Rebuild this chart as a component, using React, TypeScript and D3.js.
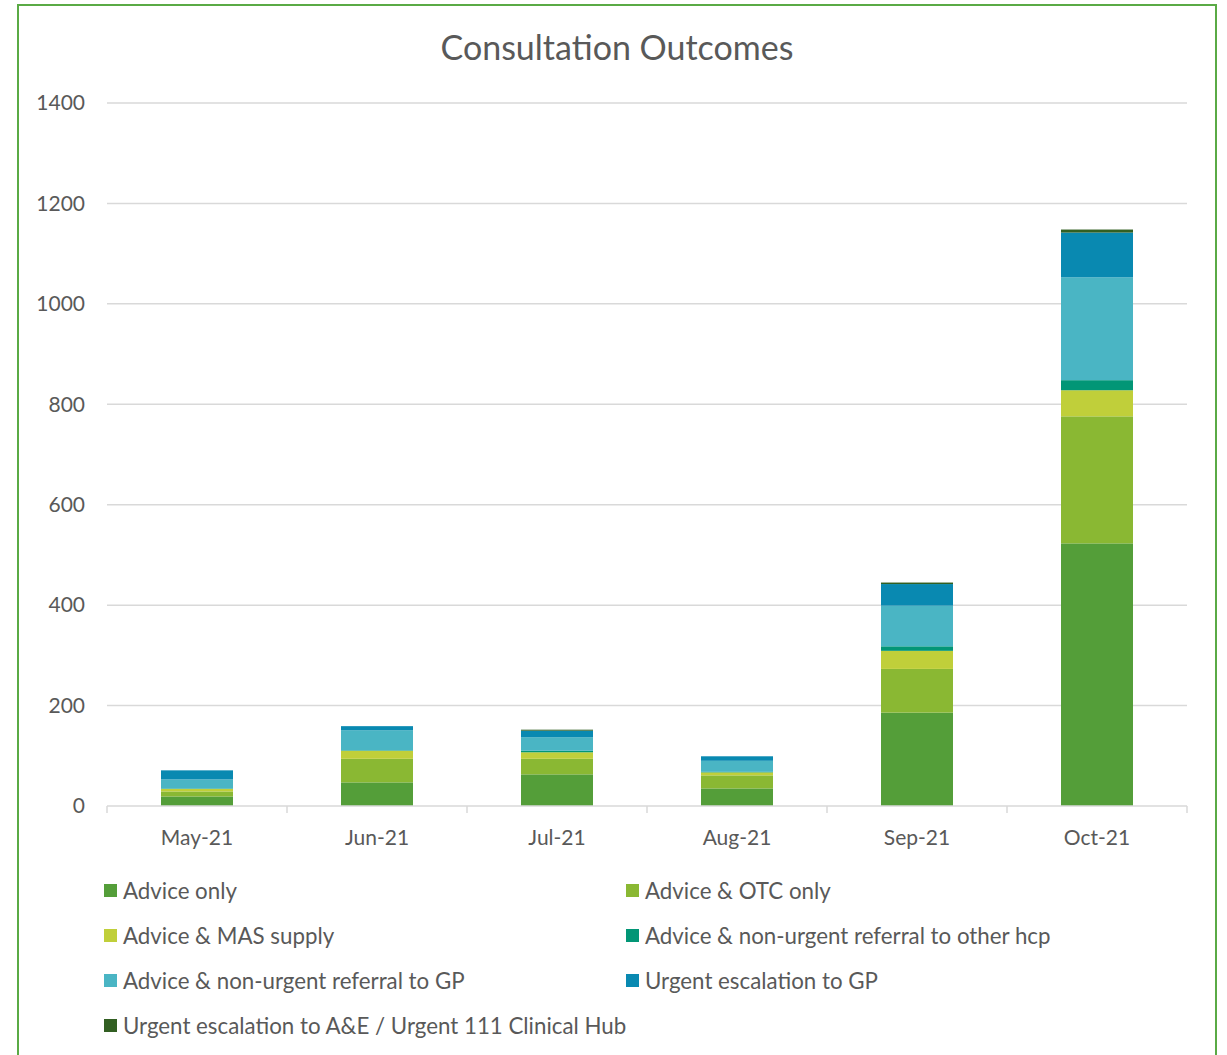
import React from "react";
import * as d3 from "d3";

const months = ["May-21", "Jun-21", "Jul-21", "Aug-21", "Sep-21", "Oct-21"];
const seriesNames = [
  "Advice only",
  "Advice & OTC only",
  "Advice & MAS supply",
  "Advice & non-urgent referral to other hcp",
  "Advice & non-urgent referral to GP",
  "Urgent escalation to GP",
  "Urgent escalation to A&E / Urgent 111 Clinical Hub",
];
const adviceOnly = [19, 47, 63, 35, 186, 523];
const adviceOtc = [10, 47, 31, 26, 87, 253];
const adviceMas = [5, 16, 13, 6, 36, 52];
const referralOther = [1, 1, 3, 1, 9, 20];
const referralGp = [18, 40, 27, 22, 81, 205];
const urgentGp = [18, 8, 13, 9, 43, 89];
const urgentAE = [0, 0, 2, 0, 3, 6];
const yTicks = [0, 200, 400, 600, 800, 1000, 1200, 1400];
const colors = ["#549E39", "#8AB833", "#C0CF3A", "#029676", "#4AB5C4", "#0989B1", "#325F22"];

const seriesValues = [adviceOnly, adviceOtc, adviceMas, referralOther, referralGp, urgentGp, urgentAE];

export default function App() {
  const W = 1227, H = 1055;
  const left = 107, right = 1187, top = 103, bottom = 806;
  const x = d3.scaleBand<string>().domain(months).range([left, right]).paddingInner(0.6).paddingOuter(0.3);
  const xOuter = d3.scaleBand<string>().domain(months).range([left, right]);
  const y = d3.scaleLinear().domain([0, 1400]).range([bottom, top]);

  const rows = months.map((m, i) => {
    const r: any = { month: m };
    seriesNames.forEach((s, j) => (r[s] = seriesValues[j][i]));
    return r;
  });
  const stacked = d3.stack<any>().keys(seriesNames)(rows);
  const font = "Lato, 'Open Sans', sans-serif";
  const textColor = "#595959";

  return (
    <svg width={W} height={H} style={{ position: "absolute", left: 0, top: 0, background: "#fff" }} fontFamily={font}>
      <rect x={18} y={5} width={1198} height={H + 10} fill="#fff" stroke="#5AAA45" strokeWidth={2} />
      <text x={617} y={60} textAnchor="middle" fontSize={34} fill={textColor}>Consultation Outcomes</text>
      {yTicks.map((t) => (
        <g key={t}>
          {t > 0 && <line x1={left} x2={right} y1={y(t)} y2={y(t)} stroke="#D9D9D9" strokeWidth={1.5} />}
          <text x={85} y={y(t)} dy="0.35em" textAnchor="end" fontSize={21} fill={textColor}>{t}</text>
        </g>
      ))}
      {stacked.map((layer, j) => (
        <g key={j} fill={colors[j]}>
          {layer.map((d, i) => (
            <rect key={i} x={x(months[i])} width={x.bandwidth()} y={y(d[1])} height={Math.max(0, y(d[0]) - y(d[1]))} />
          ))}
        </g>
      ))}
      <line x1={left} x2={right} y1={bottom} y2={bottom} stroke="#D9D9D9" strokeWidth={1.5} />
      {months.concat([""]).map((m, i) => {
        const xx = i < months.length ? (xOuter(m) as number) : right;
        return <line key={i} x1={xx} x2={xx} y1={bottom} y2={bottom + 7} stroke="#D9D9D9" strokeWidth={1.5} />;
      })}
      {months.map((m) => (
        <text key={m} x={(xOuter(m) as number) + xOuter.bandwidth() / 2} y={845} textAnchor="middle" fontSize={21} fill={textColor}>{m}</text>
      ))}
      {seriesNames.map((s, j) => {
        const col = j % 2;
        const row = Math.floor(j / 2);
        const lx = col === 0 ? 104 : 626;
        const ly = 884 + row * 45;
        return (
          <g key={s}>
            <rect x={lx} y={ly} width={13} height={13} fill={colors[j]} />
            <text x={lx + 19} y={ly + 7} dy="0.35em" fontSize={22.3} fill={textColor}>{s}</text>
          </g>
        );
      })}
    </svg>
  );
}
